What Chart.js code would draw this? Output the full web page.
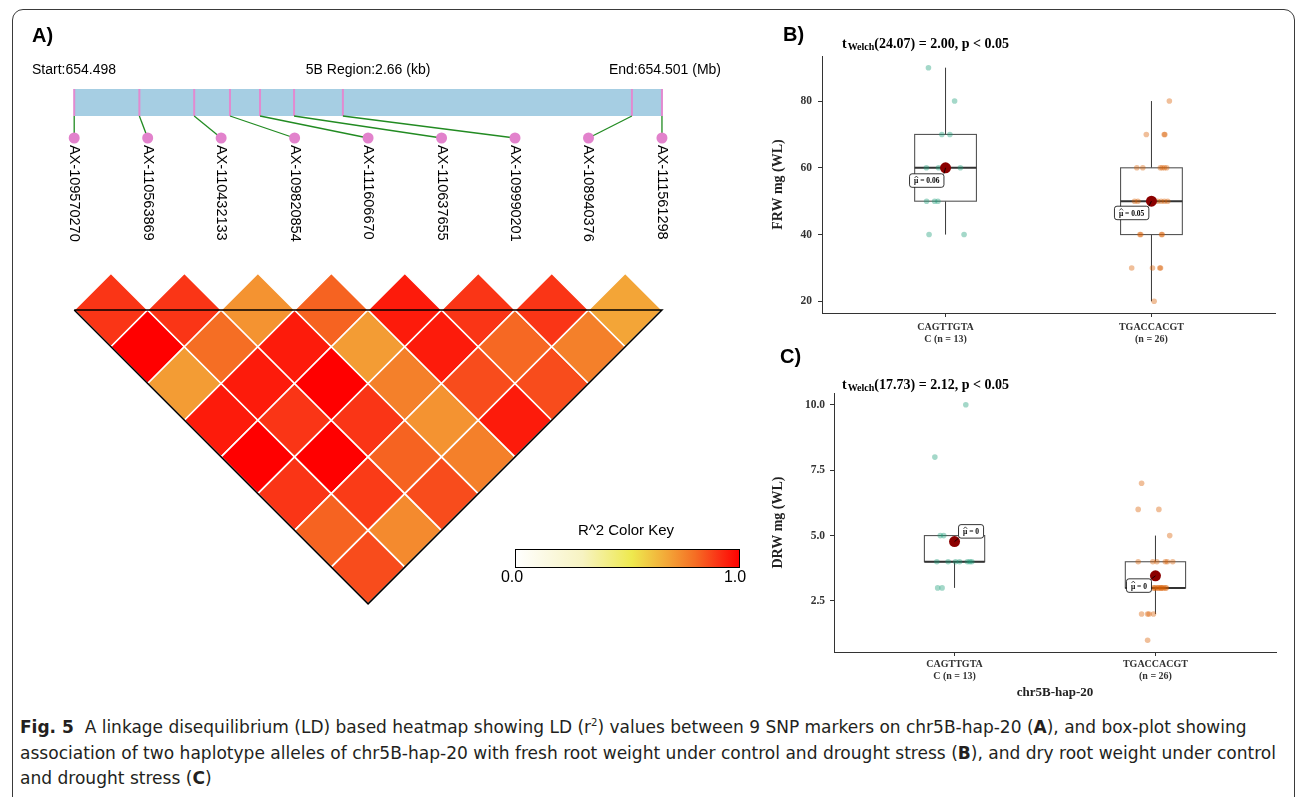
<!DOCTYPE html>
<html>
<head>
<meta charset="utf-8">
<script src="https://cdn.jsdelivr.net/npm/chart.js@4"></script>
<style>
  body { margin: 0; width: 1295px; height: 797px; overflow: hidden; position: relative; background: #fff; }
  .frame { position: absolute; left: 12px; top: 9px; width: 1281px; height: 830px; border: 1px solid #3a3a3a; border-radius: 11px; }
  canvas { position: absolute; }
  #cap { position: absolute; left: 20px; top: 714px; color: #231f20; font-family: "DejaVu Sans Condensed", "Liberation Sans Narrow", "Noto Sans", sans-serif; font-size: 18.5px; }
  #cap .ln { white-space: nowrap; height: 25.5px; line-height: 25.5px; width: max-content; transform-origin: left center; }
  #cap sup { font-size: 11px; line-height: 0; }
</style>
</head>
<body>
<div class="frame"></div>
<canvas id="ld" width="760" height="625" style="left:0;top:0"></canvas>
<canvas id="frw" width="530" height="325" style="left:760px;top:20px"></canvas>
<canvas id="drw" width="530" height="360" style="left:760px;top:340px"></canvas>
<div id="cap">
  <div class="ln"><b>Fig. 5</b>&nbsp; A linkage disequilibrium (LD) based heatmap showing LD (r<sup>2</sup>) values between 9 SNP markers on chr5B-hap-20 (<b>A</b>), and box-plot showing</div>
  <div class="ln">association of two haplotype alleles of chr5B-hap-20 with fresh root weight under control and drought stress (<b>B</b>), and dry root weight under control</div>
  <div class="ln">and drought stress (<b>C</b>)</div>
</div>
<script>
// ---- panel A data ----
const chrom = '5B';
const regionStart = '654.498';
const regionEnd = '654.501';
const regionKb = 2.66;
const markers = ['AX-109570270', 'AX-110563869', 'AX-110432133', 'AX-109820854', 'AX-111606670',
                 'AX-110637655', 'AX-109990201', 'AX-108940376', 'AX-111561298'];
const markerKb = [0, 0.295, 0.543, 0.705, 0.841, 0.995, 1.216, 2.524, 2.66];
// r^2 of marker i with every later marker j (j = i+1 ... end)
const ldR2 = [
  [0.90, 1.00, 0.70, 0.95, 1.00, 0.90, 0.82, 0.86],
  [0.90, 0.80, 0.95, 0.90, 1.00, 0.89, 0.74],
  [0.72, 0.95, 1.00, 0.90, 0.82, 0.86],
  [0.82, 0.70, 0.76, 0.72, 0.76],
  [0.95, 0.95, 0.86, 0.95],
  [0.90, 0.81, 0.86],
  [0.90, 0.76],
  [0.68]
];
const keyStops = [[0, '#ffffff'], [0.3, '#f7f3c2'], [0.52, '#eee94e'], [0.68, '#f3a537'],
                  [0.8, '#f56e24'], [0.9, '#fa3516'], [1, '#ff0000']];

// ---- panels B/C data ----
const haploLines = [['CAGTTGTA', 'C'], ['TGACCACGT', '']];
const frwGroups = [
  [90, 80, 70, 70, 60, 60, 60, 60, 50, 50, 50, 40, 40],
  [80, 70, 70, 70, 60, 60, 60, 60, 60, 60, 50, 50, 50, 50, 50, 50, 50, 40, 40, 40, 40, 30, 30, 30, 30, 20]
];
const frwJitter = [
  [-0.083, 0.044, -0.018, 0.021, -0.093, -0.034, 0.01, 0.072, -0.092, -0.053, -0.037, -0.080, 0.090],
  [0.087, -0.025, 0.062, 0.065, -0.071, -0.042, 0.043, 0.063, 0.074, 0.052, -0.082, -0.066, 0.0, 0.03,
   0.047, 0.063, 0.079, -0.052, 0.049, 0.052, -0.056, -0.096, 0.005, 0.041, 0.044, 0.013]
];
const drwGroups = [
  [10, 8, 5, 5, 4, 4, 4, 4, 4, 4, 4, 3, 3],
  [7, 6, 6, 5, 4, 4, 4, 4, 4, 4, 3, 3, 3, 3, 3, 3, 3, 3, 3, 3, 3, 2, 2, 2, 2, 1]
];
const drwJitter = [
  [0.056, -0.098, -0.071, -0.054, -0.088, -0.032, 0.025, 0.064, 0.076, 0.086, 0.005, -0.084, -0.062],
  [-0.069, -0.086, 0.017, 0.071, -0.086, -0.013, 0.007, 0.049, 0.059, 0.086, -0.01, 0.015, 0.032, 0.049,
   0.024, 0.002, 0.04, 0.012, -0.005, 0.029, 0.054, -0.069, -0.039, -0.032, -0.01, -0.039]
];
const frwTicks = [20, 40, 60, 80];
const drwTicks = [2.5, 5.0, 7.5, 10.0];
const frwMuLabels = ['0.06', '0.05'];
const drwMuLabels = ['0', '0'];
const welchDf = [24.07, 17.73];
const welchT = [2.00, 2.12];

const groupColors = ['rgba(27,158,119,0.4)', 'rgba(217,95,2,0.4)'];
const SERIF = '"Liberation Serif", "Times New Roman", serif';
const SANS = '"Liberation Sans", Arial, sans-serif';

// ---------- helpers ----------
function hex(c) { return [1, 3, 5].map(i => parseInt(c.slice(i, i + 2), 16)); }
function colorFor(v) {
  for (let k = 1; k < keyStops.length; k++) {
    if (v <= keyStops[k][0]) {
      const [v0, c0] = keyStops[k - 1], [v1, c1] = keyStops[k];
      const t = (v - v0) / (v1 - v0), a = hex(c0), b = hex(c1);
      return 'rgb(' + a.map((x, i) => Math.round(x + (b[i] - x) * t)).join(',') + ')';
    }
  }
  return keyStops[keyStops.length - 1][1];
}
function quant(sorted, p) {
  const h = (sorted.length - 1) * p, lo = Math.floor(h);
  return sorted[lo] + (h - lo) * ((sorted[lo + 1] ?? sorted[lo]) - sorted[lo]);
}
function stats(vals) {
  const s = [...vals].sort((a, b) => a - b);
  const q1 = quant(s, 0.25), med = quant(s, 0.5), q3 = quant(s, 0.75), iqr = q3 - q1;
  const lo = Math.min(...s.filter(v => v >= q1 - 1.5 * iqr));
  const hi = Math.max(...s.filter(v => v <= q3 + 1.5 * iqr));
  return { q1, med, q3, lo, hi, mean: s.reduce((a, b) => a + b, 0) / s.length };
}

// ---------- panel A: LD heatmap ----------
const A_UNIT = 73.47, A_X0 = 74.2, A_LINE = 310;   // pixel geometry of the triangle
const py = px => (px - A_LINE) / A_UNIT;            // page pixel -> y units
const nM = markers.length;
const kx = kb => kb / regionKb * (nM - 1);

const cells = [], cellColors = [];
ldR2.forEach((row, i) => row.forEach((r2, k) => {
  const j = i + k + 1;
  cells.push({ x: (i + j) / 2, y: (j - i - 1) / 2 });
  cellColors.push(colorFor(r2));
}));

const ldDecor = {
  id: 'ldDecor',
  beforeDatasetsDraw(chart) {
    const { ctx, scales: { x, y } } = chart;
    ctx.save();
    // physical strip
    const bx0 = x.getPixelForValue(kx(0)), bx1 = x.getPixelForValue(kx(regionKb));
    const by0 = y.getPixelForValue(py(89)), by1 = y.getPixelForValue(py(116));
    ctx.fillStyle = '#a6cee3';
    ctx.fillRect(bx0, by0, bx1 - bx0, by1 - by0);
    // header
    ctx.fillStyle = '#000';
    ctx.font = '14px ' + SANS;
    ctx.textBaseline = 'middle';
    const ty = y.getPixelForValue(py(70));
    ctx.textAlign = 'left';
    ctx.fillText('Start:' + regionStart, 32, ty);
    ctx.textAlign = 'center';
    ctx.fillText(chrom + ' Region:' + regionKb + ' (kb)', x.getPixelForValue((nM - 1) / 2), ty);
    ctx.textAlign = 'right';
    ctx.fillText('End:' + regionEnd + ' (Mb)', 721, ty);
    // marker names
    ctx.font = '14.5px ' + SANS;
    markers.forEach((m, i) => {
      ctx.save();
      ctx.translate(x.getPixelForValue(i), y.getPixelForValue(py(145)));
      ctx.rotate(Math.PI / 2);
      ctx.textAlign = 'left';
      ctx.fillText(m, 0, 0);
      ctx.restore();
    });
    // panel tag
    ctx.font = 'bold 20px ' + SANS;
    ctx.textAlign = 'left';
    ctx.fillText('A)', 32, 36);
    // colour key
    const k0 = 515, k1 = 740, kt = 549, kb = 568;
    const g = ctx.createLinearGradient(k0, 0, k1, 0);
    keyStops.forEach(([v, c]) => g.addColorStop(v, c));
    ctx.fillStyle = g;
    ctx.fillRect(k0, kt, k1 - k0, kb - kt);
    ctx.strokeStyle = '#000';
    ctx.lineWidth = 1;
    ctx.strokeRect(k0 + 0.5, kt + 0.5, k1 - k0 - 1, kb - kt - 1);
    ctx.fillStyle = '#000';
    ctx.font = '15px ' + SANS;
    ctx.textAlign = 'center';
    ctx.fillText('R^2 Color Key', 626, 531);
    ctx.font = '16px ' + SANS;
    ctx.fillText('0.0', 512, 578);
    ctx.fillText('1.0', 735, 578);
    ctx.restore();
  }
};

const ldDatasets = [
  // marker dots (drawn on top)
  { data: markers.map((m, i) => ({ x: i, y: py(138) })), pointRadius: 5.5,
    backgroundColor: '#e282cc', borderWidth: 0 },
  // connectors from physical position to marker dot
  ...markerKb.map((kb, i) => ({ data: [{ x: kx(kb), y: py(116) }, { x: i, y: py(138) }], showLine: true,
    pointRadius: 0, borderColor: '#228b22', borderWidth: 1.3 })),
  // ticks on strip
  ...markerKb.map(kb => ({ data: [{ x: kx(kb), y: py(89) }, { x: kx(kb), y: py(116) }], showLine: true,
    pointRadius: 0, borderColor: '#e28ad0', borderWidth: 2 })),
  // triangle outline
  { data: [{ x: 0, y: 0 }, { x: nM - 1, y: 0 }, { x: (nM - 1) / 2, y: (nM - 1) / 2 }, { x: 0, y: 0 }],
    showLine: true, pointRadius: 0, borderColor: '#000', borderWidth: 1.5 },
  // LD cells
  { data: cells, pointStyle: 'rectRot', backgroundColor: cellColors, borderColor: '#fff', borderWidth: 1.6,
    pointRadius: c => { const x = c.chart.scales.x; return x ? (x.getPixelForValue(1) - x.getPixelForValue(0)) / 2 : 36.7; } }
];

new Chart(document.getElementById('ld'), {
  type: 'scatter',
  data: { datasets: ldDatasets },
  options: {
    responsive: false, animation: false, events: [],
    layout: { padding: 0, autoPadding: false },
    plugins: { legend: { display: false }, tooltip: { enabled: false } },
    scales: {
      x: { type: 'linear', display: false, min: -A_X0 / A_UNIT, max: (760 - A_X0) / A_UNIT },
      y: { type: 'linear', display: false, reverse: true, min: py(0), max: py(625) }
    }
  },
  plugins: [ldDecor]
});

// ---------- panels B and C: box plots ----------
function muLabel(ctx, txt, cx, cy) {
  // "μ" with a hat, followed by the value
  const w = ctx.measureText(txt).width;
  ctx.textAlign = 'left';
  const x0 = cx - w / 2;
  ctx.fillText(txt, x0, cy);
  const mw = ctx.measureText('μ').width;
  ctx.beginPath();
  ctx.moveTo(x0 + 0.5, cy - 3.5); ctx.lineTo(x0 + mw / 2 + 0.2, cy - 5.5); ctx.lineTo(x0 + mw - 0.1, cy - 3.5);
  ctx.lineWidth = 0.7;
  ctx.stroke();
}

function boxChart(id, c) {
  const sts = c.groups.map(stats);
  const all = c.groups.flat();
  const lo = Math.min(...all), hi = Math.max(...all), pad = (hi - lo) * 0.05;
  const xLabels = haploLines.map((l, g) => [l[0], (l[1] ? l[1] + ' ' : '') + '(n = ' + c.groups[g].length + ')']);

  const boxes = {
    id: 'boxes',
    beforeDatasetsDraw(chart) {
      const { ctx, scales: { x, y } } = chart;
      ctx.save();
      sts.forEach((s, g) => {
        const cx = x.getPixelForValue(g + 1), hw = x.getPixelForValue(g + 1.15) - cx;
        ctx.strokeStyle = '#222'; ctx.lineWidth = 0.9;
        ctx.beginPath();
        ctx.moveTo(cx, y.getPixelForValue(s.q3)); ctx.lineTo(cx, y.getPixelForValue(s.hi));
        ctx.moveTo(cx, y.getPixelForValue(s.q1)); ctx.lineTo(cx, y.getPixelForValue(s.lo));
        ctx.stroke();
        ctx.strokeStyle = '#555'; ctx.lineWidth = 1.1;
        const t = y.getPixelForValue(s.q3), b = y.getPixelForValue(s.q1);
        ctx.strokeRect(cx - hw, t, 2 * hw, b - t);
        ctx.strokeStyle = '#333'; ctx.lineWidth = 2;
        ctx.beginPath();
        ctx.moveTo(cx - hw, y.getPixelForValue(s.med)); ctx.lineTo(cx + hw, y.getPixelForValue(s.med));
        ctx.stroke();
      });
      ctx.restore();
    },
    afterDatasetsDraw(chart) {
      const { ctx, scales: { x, y } } = chart;
      ctx.save();
      sts.forEach((s, g) => {
        const mx = x.getPixelForValue(g + 1), my = y.getPixelForValue(s.mean);
        const [dx, dy] = c.muOffset[g];
        const txt = 'μ = ' + c.mu[g];
        ctx.font = 'bold 7.5px ' + SERIF;
        const w = ctx.measureText(txt).width + 9, h = 13.5;
        const bx = mx + dx, by = my + dy;
        ctx.strokeStyle = '#000'; ctx.lineWidth = 0.8;
        ctx.beginPath();
        ctx.moveTo(mx, my);
        ctx.lineTo(Math.max(bx, Math.min(mx, bx + w)), Math.max(by, Math.min(my, by + h)));
        ctx.stroke();
        ctx.fillStyle = '#fff';
        ctx.beginPath(); ctx.roundRect(bx, by, w, h, 2.5); ctx.fill(); ctx.stroke();
        ctx.fillStyle = '#000'; ctx.textBaseline = 'middle';
        muLabel(ctx, txt, bx + w / 2, by + h / 2 + 1);
      });
      ctx.restore();
    },
    afterDraw(chart) {
      const ctx = chart.ctx;
      ctx.save();
      ctx.fillStyle = '#000';
      ctx.textBaseline = 'middle';
      ctx.font = 'bold 20px ' + SANS;
      ctx.fillText(c.tag, c.tagPos[0], c.tagPos[1]);
      let tx = 82;
      const ty = c.titleY;
      ctx.font = 'bold 14px ' + SERIF;
      ctx.fillText('t', tx, ty); tx += ctx.measureText('t').width + 1;
      ctx.font = 'bold 10px ' + SERIF;
      ctx.fillText('Welch', tx, ty + 3); tx += ctx.measureText('Welch').width;
      ctx.font = 'bold 14px ' + SERIF;
      ctx.fillText('(' + welchDf[c.k].toFixed(2) + ') = ' + welchT[c.k].toFixed(2) + ', p < 0.05', tx, ty);
      ctx.restore();
    }
  };

  return new Chart(document.getElementById(id), {
    type: 'scatter',
    data: {
      datasets: [
        { data: sts.map((s, g) => ({ x: g + 1, y: s.mean })), pointRadius: 5.5,
          backgroundColor: '#8b0000', borderColor: '#8b0000', borderWidth: 0 },
        ...c.groups.map((vals, g) => ({
          data: vals.map((v, k) => ({ x: g + 1 + c.jitter[g][k], y: v })),
          pointRadius: 2.8, backgroundColor: groupColors[g], borderWidth: 0
        }))
      ]
    },
    options: {
      responsive: false, animation: false, events: [],
      layout: { padding: { top: c.padTop, right: c.padRight, left: 0, bottom: 0 }, autoPadding: false },
      plugins: { legend: { display: false }, tooltip: { enabled: false } },
      scales: {
        x: {
          type: 'linear', min: 0.4, max: c.groups.length + 0.6,
          afterBuildTicks: s => { s.ticks = c.groups.map((_, g) => ({ value: g + 1 })); },
          afterFit: s => { s.height = c.xh; },
          ticks: { callback: v => xLabels[v - 1], autoSkip: false, maxRotation: 0, padding: c.xPad,
                   color: '#333', font: { family: SERIF, size: 10, weight: 'bold', lineHeight: 1.15 } },
          grid: { drawOnChartArea: false, tickLength: 4, color: '#333' },
          border: { color: '#333', width: 1 },
          title: { display: !!c.xTitle, text: c.xTitle, color: '#222', padding: { top: 0, bottom: 0 },
                   font: { family: SERIF, size: 13, weight: 'bold' } }
        },
        y: {
          min: lo - pad, max: hi + pad,
          afterBuildTicks: s => { s.ticks = c.ticks.map(v => ({ value: v })); },
          afterFit: s => { s.width = c.yw; },
          ticks: { callback: c.fmt, padding: c.yPad, color: '#333',
                   font: { family: SERIF, size: 11.5, weight: 'bold' } },
          grid: { drawOnChartArea: false, tickLength: 4, color: '#333' },
          border: { color: '#333', width: 1 },
          title: { display: true, text: c.yTitle, color: '#222', padding: { top: 10, bottom: 0 },
                   font: { family: SERIF, size: 14, weight: 'bold' } }
        }
      }
    },
    plugins: [boxes]
  });
}

boxChart('frw', {
  k: 0, groups: frwGroups, jitter: frwJitter, ticks: frwTicks, fmt: v => v,
  mu: frwMuLabels, muOffset: [[-36, 6], [-37, 5]],
  yTitle: 'FRW mg (WL)', xTitle: '', tag: 'B)', tagPos: [23, 15], titleY: 24,
  padTop: 36, padRight: 15, yw: 62, xh: 32, yPad: 6, xPad: 5
});
boxChart('drw', {
  k: 1, groups: drwGroups, jitter: drwJitter, ticks: drwTicks, fmt: v => v.toFixed(1),
  mu: drwMuLabels, muOffset: [[4, -17], [-29, 3]],
  yTitle: 'DRW mg (WL)', xTitle: 'chr5B-hap-20', tag: 'C)', tagPos: [20, 17], titleY: 45,
  padTop: 53, padRight: 14, yw: 74, xh: 48, yPad: 5, xPad: 3
});

// caption lines fitted to the printed widths
const lines = document.querySelectorAll('#cap .ln');
const targets = [1227, 1256];
let f = 1;
lines.forEach((el, i) => {
  if (i < targets.length) f = targets[i] / el.offsetWidth;
  el.style.transform = 'scaleX(' + f + ')';
});
</script>
</body>
</html>
